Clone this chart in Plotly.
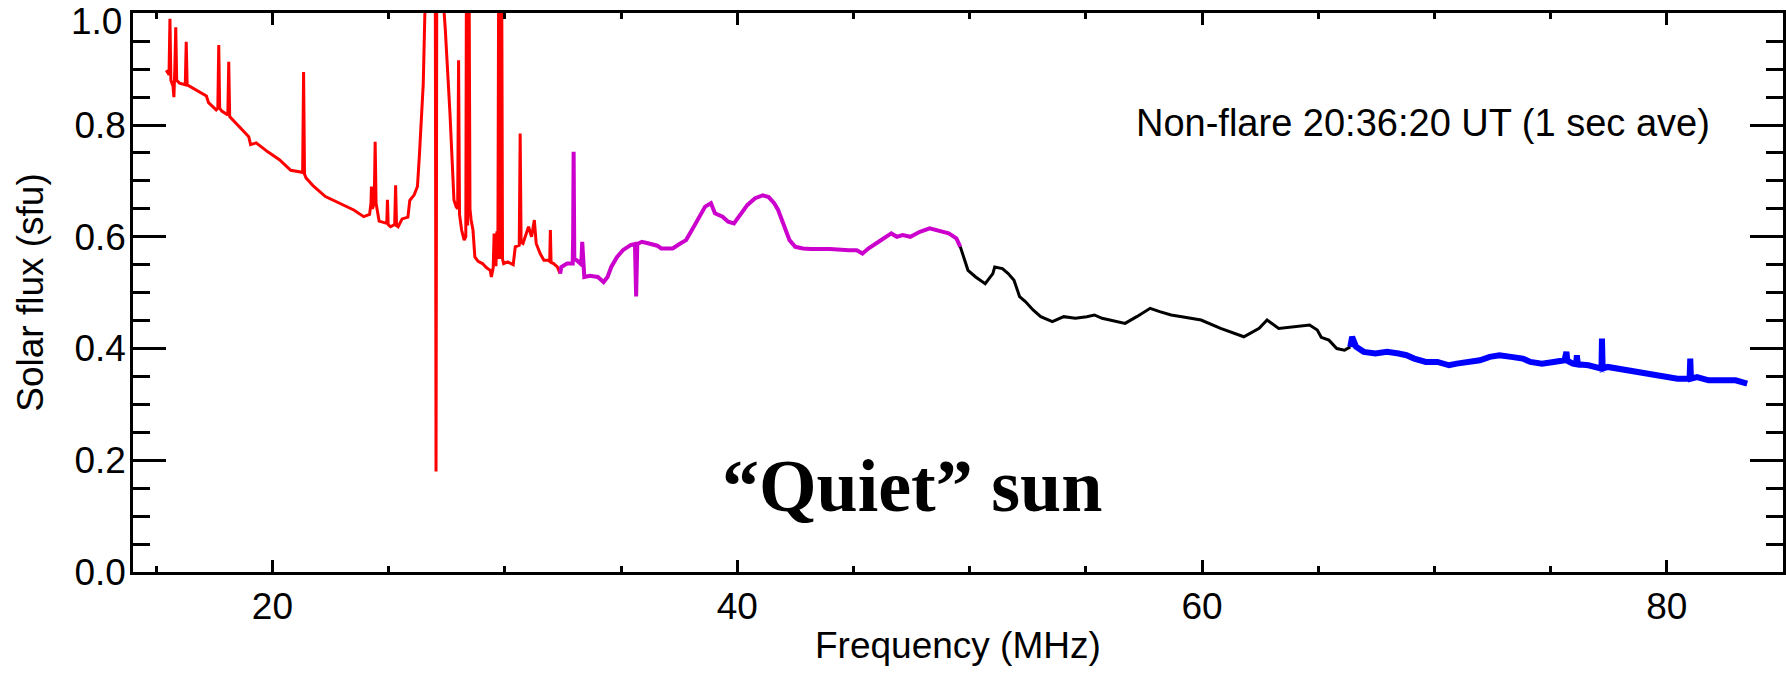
import plotly.graph_objects as go

# ---------------- data ----------------
red_freq = [15.43, 15.55, 15.59, 15.63, 15.72, 15.76, 15.80, 15.84, 15.88, 16.00, 16.25, 16.29, 16.33,
            16.59, 16.90, 17.16, 17.25, 17.58, 17.65, 17.69, 17.73, 17.82, 18.08, 18.12, 18.16, 18.50,
            18.98, 19.06, 19.30, 19.80, 20.30, 20.63, 20.79, 21.21, 21.30, 21.34, 21.38, 21.45, 21.78,
            22.28, 22.70, 23.10, 23.50, 23.93, 24.18, 24.24, 24.26, 24.30, 24.38, 24.42, 24.46, 24.59,
            24.92, 24.95, 24.98, 25.08, 25.26, 25.30, 25.34, 25.41, 25.58, 25.83, 25.91, 26.10, 26.24,
            26.32, 26.40, 26.49, 26.57, 26.62, 27.00, 27.04, 27.08, 27.35, 27.39, 27.44, 27.48, 27.56,
            27.64, 27.72, 27.81, 27.90, 27.97, 28.01, 28.05, 28.14, 28.25, 28.32, 28.36, 28.40, 28.44,
            28.50, 28.55, 28.63, 28.71, 28.85, 29.04, 29.20, 29.37, 29.42, 29.50, 29.54, 29.58, 29.62,
            29.66, 29.70, 29.75, 29.80, 29.85, 29.90, 29.95, 30.12, 30.36, 30.45, 30.62, 30.66, 30.70,
            30.78, 31.02, 31.15, 31.27, 31.35, 31.52, 31.68, 31.85, 31.93, 31.96, 31.99, 32.10, 32.26,
            32.38]
red_flux = [0.898, 0.890, 0.990, 0.880, 0.870, 0.850, 0.900, 0.975, 0.880, 0.875, 0.872, 0.949, 0.872,
            0.866, 0.858, 0.852, 0.840, 0.827, 0.830, 0.943, 0.830, 0.825, 0.818, 0.913, 0.815, 0.800,
            0.779, 0.765, 0.768, 0.752, 0.738, 0.725, 0.719, 0.716, 0.715, 0.895, 0.712, 0.705, 0.690,
            0.672, 0.664, 0.655, 0.648, 0.636, 0.640, 0.660, 0.690, 0.650, 0.660, 0.770, 0.660, 0.628,
            0.624, 0.666, 0.622, 0.618, 0.622, 0.692, 0.620, 0.618, 0.632, 0.635, 0.665, 0.675, 0.690,
            0.743, 0.815, 0.874, 1.020, 1.300, 1.300, 0.180, 1.300, 1.300, 1.000, 0.970, 0.930, 0.880,
            0.820, 0.755, 0.666, 0.654, 0.650, 0.916, 0.640, 0.612, 0.594, 0.600, 1.300, 0.620, 1.300,
            0.650, 0.630, 0.612, 0.564, 0.556, 0.552, 0.545, 0.540, 0.528, 0.545, 0.606, 0.550, 0.550,
            0.610, 0.560, 1.300, 0.560, 1.300, 0.560, 0.552, 0.555, 0.550, 0.582, 0.585, 0.785, 0.590,
            0.588, 0.618, 0.600, 0.630, 0.588, 0.570, 0.558, 0.558, 0.556, 0.612, 0.554, 0.552, 0.546,
            0.534]

magenta_freq = [32.38, 32.43, 32.68, 32.92, 32.94, 32.96, 32.99, 33.09, 33.25, 33.30, 33.33, 33.37, 33.42,
                33.66, 34.00, 34.25, 34.42, 34.58, 34.83, 35.08, 35.41, 35.60, 35.65, 35.70, 35.74, 35.90,
                36.20, 36.56, 36.73, 37.22, 37.55, 37.80, 38.05, 38.38, 38.62, 38.87, 39.04, 39.37, 39.61,
                39.86, 40.19, 40.44, 40.77, 41.10, 41.35, 41.59, 41.76, 42.01, 42.25, 42.50, 42.83, 43.16,
                43.99, 44.81, 45.14, 45.39, 45.64, 45.97, 46.30, 46.63, 46.87, 47.12, 47.45, 47.86, 48.28,
                48.61, 49.10, 49.43, 49.60]
magenta_flux = [0.534, 0.546, 0.552, 0.552, 0.600, 0.752, 0.560, 0.558, 0.552, 0.560, 0.591, 0.540, 0.528,
                0.530, 0.528, 0.519, 0.528, 0.546, 0.564, 0.576, 0.585, 0.587, 0.493, 0.587, 0.588, 0.591,
                0.588, 0.584, 0.579, 0.579, 0.588, 0.594, 0.612, 0.636, 0.654, 0.660, 0.642, 0.636, 0.627,
                0.624, 0.642, 0.657, 0.669, 0.674, 0.671, 0.660, 0.648, 0.618, 0.594, 0.582, 0.579, 0.578,
                0.578, 0.576, 0.576, 0.570, 0.579, 0.588, 0.597, 0.606, 0.600, 0.603, 0.600, 0.609, 0.615,
                0.612, 0.606, 0.597, 0.582]

black_freq = [49.60, 49.93, 50.26, 50.67, 51.00, 51.08, 51.41, 51.66, 51.91, 52.15, 52.40, 52.73, 53.06,
              53.56, 54.05, 54.55, 55.04, 55.37, 55.70, 56.36, 56.69, 57.19, 57.77, 58.18, 58.67, 59.13,
              59.96, 60.80, 61.30, 61.80, 62.46, 62.80, 63.30, 64.13, 64.63, 64.96, 65.13, 65.46, 65.80,
              66.13, 66.38]
black_flux = [0.582, 0.540, 0.528, 0.516, 0.534, 0.546, 0.543, 0.534, 0.522, 0.493, 0.484, 0.469, 0.457,
              0.448, 0.457, 0.454, 0.457, 0.460, 0.454, 0.448, 0.445, 0.457, 0.472, 0.466, 0.460, 0.457,
              0.451, 0.436, 0.428, 0.421, 0.436, 0.451, 0.436, 0.439, 0.442, 0.433, 0.420, 0.415, 0.400,
              0.397, 0.403]

blue_freq = [66.38, 66.46, 66.63, 66.96, 67.46, 67.96, 68.46, 68.80, 69.13, 69.63, 70.13, 70.63, 70.96,
             71.46, 71.96, 72.38, 72.80, 73.30, 73.80, 74.13, 74.63, 75.13, 75.60, 75.68, 75.72, 75.96,
             76.10, 76.13, 76.17, 76.63, 77.13, 77.19, 77.21, 77.24, 77.46, 78.30, 78.96, 79.46, 79.96,
             80.46, 80.98, 81.01, 81.04, 81.30, 81.80, 82.46, 82.96, 83.46]
blue_flux = [0.403, 0.421, 0.403, 0.394, 0.391, 0.394, 0.391, 0.388, 0.382, 0.376, 0.376, 0.370, 0.373,
             0.376, 0.379, 0.385, 0.388, 0.385, 0.382, 0.376, 0.373, 0.376, 0.379, 0.394, 0.378, 0.373,
             0.372, 0.388, 0.372, 0.370, 0.364, 0.364, 0.418, 0.364, 0.367, 0.361, 0.358, 0.352, 0.349,
             0.346, 0.346, 0.382, 0.346, 0.349, 0.343, 0.343, 0.343, 0.337]

x_ticks = [20, 40, 60, 80]
y_ticks = [0.0, 0.2, 0.4, 0.6, 0.8, 1.0]
# the top label (1.0) is drawn separately, nudged down inside the page as in the reference
y_tick_labels = ["0.0", "0.2", "0.4", "0.6", "0.8", ""]
top_label = "1.0"

# ---------------- figure ----------------
W, H = 1786, 673
ML, MR, MT, MB = 133, 3, 13, 101
FONT = "Liberation Sans, Arial, Helvetica, sans-serif"
FS = 37

fig = go.Figure()
segments = [
    (red_freq, red_flux, "#ff0000", 3),
    (magenta_freq, magenta_flux, "#cc00cc", 4),
    (black_freq, black_flux, "#000000", 3),
    (blue_freq, blue_flux, "#0000ff", 6),
]
for fx, fy, col, w in segments:
    fig.add_trace(go.Scatter(x=fx, y=fy, mode="lines",
                             line=dict(color=col, width=w), showlegend=False,
                             hoverinfo="skip"))

axis_common = dict(showline=True, linecolor="black", linewidth=2.5, mirror="allticks",
                   ticks="inside", tickcolor="black", tickwidth=2.5,
                   showgrid=False, zeroline=False,
                   tickfont=dict(family=FONT, size=FS, color="black"))

fig.update_xaxes(range=[14, 85], tickvals=x_ticks, ticklen=12,
                 minor=dict(ticks="inside", dtick=5, tick0=0, ticklen=6,
                            tickcolor="black", tickwidth=2.5, showgrid=False),
                 ticklabelstandoff=0,
                 **axis_common)
fig.update_yaxes(range=[0, 1.0005], tickvals=y_ticks, ticktext=y_tick_labels, ticklen=33,
                 minor=dict(ticks="inside", dtick=0.05, tick0=0, ticklen=17,
                            tickcolor="black", tickwidth=2.5, showgrid=False),
                 title=dict(text="Solar flux (sfu)", font=dict(family=FONT, size=FS, color="black"),
                            standoff=20),
                 ticklabelstandoff=-3,
                 **axis_common)

fig.add_annotation(text=top_label, xref="paper", yref="y", x=0, y=1.0,
                   xanchor="right", yanchor="middle", xshift=-9, yshift=-8, showarrow=False,
                   font=dict(family=FONT, size=FS, color="black"))
fig.add_annotation(text="Frequency (MHz)", xref="paper", yref="paper", x=0.5, y=-0.1315,
                   xanchor="center", yanchor="middle", showarrow=False,
                   font=dict(family=FONT, size=FS, color="black"))
fig.add_annotation(text="Non-flare 20:36:20 UT (1 sec ave)", xref="paper", yref="paper",
                   x=0.957, y=0.803, xanchor="right", yanchor="middle", showarrow=False,
                   font=dict(family=FONT, size=38, color="black"))
fig.add_annotation(text="<b>\u201cQuiet\u201d sun</b>", xref="paper", yref="paper",
                   x=0.472, y=0.154, xanchor="center", yanchor="middle", showarrow=False,
                   font=dict(family="Liberation Serif, Times New Roman, serif", size=74, color="black"))

fig.update_layout(width=W, height=H, margin=dict(l=ML, r=MR, t=MT, b=MB, autoexpand=False),
                  paper_bgcolor="white", plot_bgcolor="white")

fig.write_html("out.html", config={"displayModeBar": False},
               post_script="document.body.style.margin='0px';document.body.style.overflow='hidden';")
